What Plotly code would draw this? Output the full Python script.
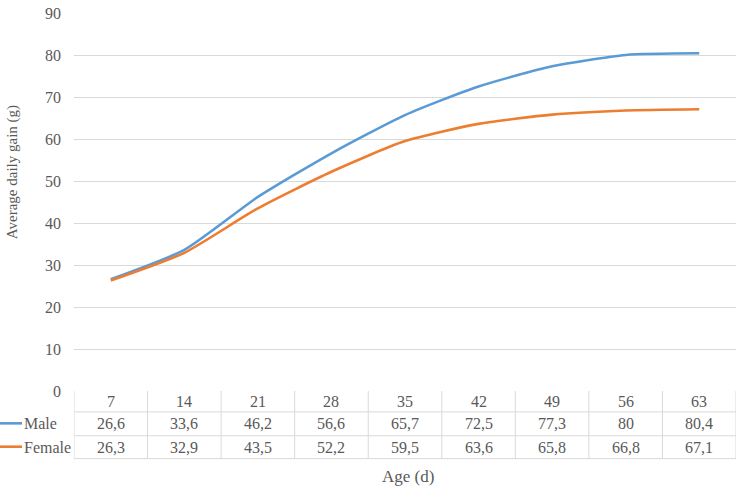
import plotly.graph_objects as go

ages = ["7", "14", "21", "28", "35", "42", "49", "56", "63"]
male = [26.6, 33.6, 46.2, 56.6, 65.7, 72.5, 77.3, 80, 80.4]
female = [26.3, 32.9, 43.5, 52.2, 59.5, 63.6, 65.8, 66.8, 67.1]
series_names = ["Male", "Female"]
series_colors = ["#5B9BD5", "#ED7D31"]
x_title = "Age (d)"
y_title = "Average daily gain (g)"

W, H = 741, 490
L, R, T, B = 74, 5, 11, 99
PH = H - T - B  # plot height in px
PW = W - L - R
FONT = "Liberation Serif"
TXT = "#595959"
GRID = "#D9D9D9"

def py(p):
    """pixel y -> paper y"""
    return (H - B - p) / PH

def px(p):
    return (p - L) / PW

idx = list(range(len(ages)))
fig = go.Figure()
for name, vals, col in zip(series_names, [male, female], series_colors):
    fig.add_trace(go.Scatter(x=idx, y=vals, mode="lines", name=name,
                             line=dict(color=col, width=2.6, shape="spline", smoothing=0.6),
                             showlegend=False))

shapes = []
annotations = []
row_lines = [391, 412, 436, 459]
for yy in row_lines[1:]:
    shapes.append(dict(type="line", xref="x", yref="paper", x0=-0.5, x1=len(ages) - 0.5,
                       y0=py(yy), y1=py(yy), line=dict(color=GRID, width=1)))
for i in range(len(ages) + 1):
    shapes.append(dict(type="line", xref="x", yref="paper", x0=i - 0.5, x1=i - 0.5,
                       y0=py(391), y1=py(459), line=dict(color=GRID, width=1)))

row_centers = [401.5, 424, 447.5]
rows = [ages, [str(v).replace(".", ",") for v in male], [str(v).replace(".", ",") for v in female]]
for r, (vals, yc) in enumerate(zip(rows, row_centers)):
    for i, v in enumerate(vals):
        annotations.append(dict(x=i, y=py(yc), xref="x", yref="paper", text=v, showarrow=False,
                                font=dict(family=FONT, size=16, color=TXT), xanchor="center", yanchor="middle"))

for name, col, yc in zip(series_names, series_colors, row_centers[1:]):
    shapes.append(dict(type="line", xref="paper", yref="paper", x0=px(0), x1=px(22),
                       y0=py(yc - 0.5), y1=py(yc - 0.5), line=dict(color=col, width=2.6)))
    annotations.append(dict(x=px(22), y=py(yc), xref="paper", yref="paper", text=name, showarrow=False,
                            font=dict(family=FONT, size=16, color=TXT), xanchor="left", yanchor="middle"))

annotations.append(dict(x=px(408), y=py(477), xref="paper", yref="paper", text=x_title, showarrow=False,
                        font=dict(family=FONT, size=17, color=TXT), xanchor="center", yanchor="middle"))
annotations.append(dict(x=px(12), y=py(171), xref="paper", yref="paper", text=y_title, showarrow=False,
                        textangle=-90, font=dict(family=FONT, size=15, color=TXT),
                        xanchor="center", yanchor="middle"))

fig.update_layout(
    width=W, height=H,
    margin=dict(l=L, r=R, t=T, b=B),
    paper_bgcolor="white", plot_bgcolor="white",
    shapes=shapes, annotations=annotations,
    xaxis=dict(range=[-0.5, len(ages) - 0.5], showticklabels=False, showgrid=False,
               zeroline=False, showline=False, fixedrange=True),
    yaxis=dict(range=[0, 90], dtick=10, tick0=0, showgrid=True, gridcolor=GRID, gridwidth=1,
               zeroline=False, showline=False, ticks="", ticklabelstandoff=12,
               tickfont=dict(family=FONT, size=16, color=TXT)),
)

fig.write_html("out.html")
